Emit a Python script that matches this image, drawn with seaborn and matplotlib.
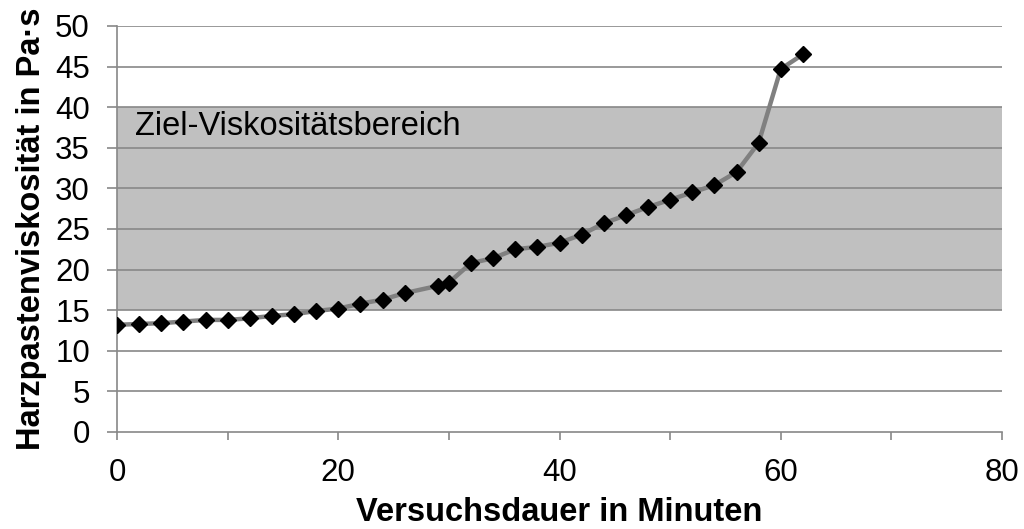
import matplotlib
matplotlib.use("Agg")
import matplotlib.pyplot as plt
import seaborn as sns
import pandas as pd

# data
minutes = [0, 2, 4, 6, 8, 10, 12, 14, 16, 18, 20, 22, 24, 26, 29, 30, 32, 34, 36, 38,
           40, 42, 44, 46, 48, 50, 52, 54, 56, 58, 60, 62]
viscosity = [13.2, 13.3, 13.4, 13.6, 13.8, 13.8, 14.0, 14.3, 14.5, 14.9, 15.2, 15.8,
             16.3, 17.1, 18.0, 18.4, 20.8, 21.4, 22.5, 22.8, 23.3, 24.3, 25.7, 26.7,
             27.7, 28.6, 29.5, 30.4, 32.0, 35.6, 44.7, 46.5]
target_low, target_high = 15, 40
band_label = "Ziel-Viskositätsbereich"
x_label = "Versuchsdauer in Minuten"
y_label = "Harzpastenviskosität in Pa·s"

sns.set_theme(style="white")
plt.rcParams["font.family"] = ["Liberation Sans", "DejaVu Sans"]
plt.rcParams["text.color"] = "black"
plt.rcParams["axes.labelcolor"] = "black"
plt.rcParams["xtick.labelcolor"] = "black"
plt.rcParams["ytick.labelcolor"] = "black"

df = pd.DataFrame({"t": minutes, "v": viscosity})

fig = plt.figure(figsize=(10.24, 5.29), dpi=100)
ax = fig.add_axes([0.1143, 0.1834, 0.8642, 0.7675])

ax.axhspan(target_low, target_high, xmin=0, xmax=1, color="#c0c0c0", zorder=0, lw=0)
for yv in range(5, 51, 5):
    ax.axhline(yv, color="#888888", lw=1.2, zorder=1)

sns.lineplot(data=df, x="t", y="v", ax=ax, color="#808080", lw=3.2, zorder=3,
             marker="D", markersize=8, markerfacecolor="black", markeredgecolor="black",
             markeredgewidth=1)

ax.text(1.6, 37.6, band_label, fontsize=23.5, va="center", ha="left", color="black", zorder=4)

ax.set_xlim(0, 80)
ax.set_ylim(0, 50)
ax.set_xticks(range(0, 81, 20))
ax.set_xticks(range(0, 81, 10), minor=True)
ax.set_yticks(range(0, 51, 5))

for s in ["top", "right"]:
    ax.spines[s].set_visible(False)
for s in ["left", "bottom"]:
    ax.spines[s].set_color("#888888")
    ax.spines[s].set_linewidth(1.2)

ax.tick_params(axis="y", which="major", direction="out", length=7.5, width=1.2,
               color="#888888", labelsize=22.5, pad=12, left=True)
ax.tick_params(axis="x", which="both", direction="out", length=6, width=1.2,
               color="#888888", labelsize=22.5, pad=13, bottom=True)

ax.set_xlabel(x_label, fontsize=23.5, fontweight="bold", labelpad=6)
ax.set_ylabel(y_label, fontsize=23.5, fontweight="bold", labelpad=6)

fig.savefig("out.png", dpi=100, facecolor="white")
